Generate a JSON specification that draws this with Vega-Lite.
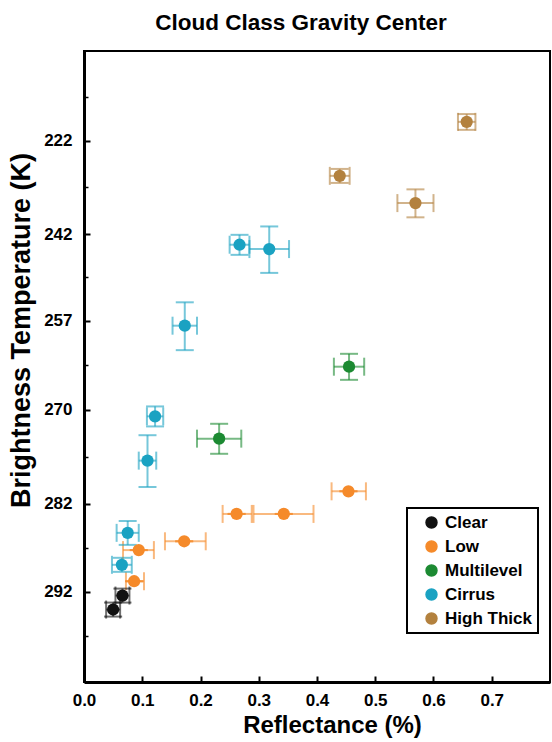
{
  "$schema": "https://vega.github.io/schema/vega-lite/v6.json",
  "width": 466,
  "height": 631,
  "autosize": "none",
  "padding": {"left": 84, "top": 51, "right": 2, "bottom": 60},
  "background": "white",
  "title": {"text": "Cloud Class Gravity Center", "font": "Liberation Sans", "fontSize": 22.5, "fontWeight": "bold", "color": "black", "offset": 17, "dx": -16},
  "config": {
    "view": {"stroke": "black", "strokeWidth": 2},
    "axis": {"domainColor": "black", "domainWidth": 3, "tickColor": "black", "tickWidth": 2, "tickSize": -6, "grid": false, "labelFont": "Liberation Sans", "labelFontWeight": "bold", "labelFontSize": 17, "labelColor": "black", "titleFont": "Liberation Sans", "titleFontWeight": "bold", "titleColor": "black"},
    "legend": {"labelFont": "Liberation Sans", "labelFontWeight": "bold", "labelFontSize": 17, "labelColor": "black", "strokeWidth": 2}
  },
  "data": {"values": [
    {"class": "Clear", "r": 0.050, "t": 293.92, "rlo": 0.038, "rhi": 0.062, "tlo": 293.18, "thi": 294.66},
    {"class": "Clear", "r": 0.066, "t": 292.43, "rlo": 0.054, "rhi": 0.078, "tlo": 291.68, "thi": 293.18},
    {"class": "Low", "r": 0.086, "t": 290.88, "rlo": 0.072, "rhi": 0.103, "tlo": 290.88, "thi": 290.88},
    {"class": "Low", "r": 0.094, "t": 287.42, "rlo": 0.067, "rhi": 0.120, "tlo": 287.42, "thi": 287.42},
    {"class": "Low", "r": 0.172, "t": 286.42, "rlo": 0.139, "rhi": 0.209, "tlo": 286.42, "thi": 286.42},
    {"class": "Low", "r": 0.262, "t": 283.24, "rlo": 0.238, "rhi": 0.288, "tlo": 283.24, "thi": 283.24},
    {"class": "Low", "r": 0.343, "t": 283.24, "rlo": 0.291, "rhi": 0.394, "tlo": 283.24, "thi": 283.24},
    {"class": "Low", "r": 0.454, "t": 280.53, "rlo": 0.425, "rhi": 0.484, "tlo": 280.53, "thi": 280.53},
    {"class": "Multilevel", "r": 0.232, "t": 273.89, "rlo": 0.194, "rhi": 0.270, "tlo": 271.93, "thi": 275.85},
    {"class": "Multilevel", "r": 0.455, "t": 263.96, "rlo": 0.429, "rhi": 0.481, "tlo": 262.06, "thi": 265.86},
    {"class": "Cirrus", "r": 0.075, "t": 285.45, "rlo": 0.056, "rhi": 0.094, "tlo": 284.07, "thi": 286.83},
    {"class": "Cirrus", "r": 0.065, "t": 289.07, "rlo": 0.048, "rhi": 0.082, "tlo": 288.29, "thi": 289.85},
    {"class": "Cirrus", "r": 0.109, "t": 276.72, "rlo": 0.094, "rhi": 0.124, "tlo": 273.44, "thi": 280.00},
    {"class": "Cirrus", "r": 0.122, "t": 270.93, "rlo": 0.108, "rhi": 0.136, "tlo": 269.58, "thi": 272.28},
    {"class": "Cirrus", "r": 0.173, "t": 257.76, "rlo": 0.152, "rhi": 0.194, "tlo": 254.01, "thi": 261.51},
    {"class": "Cirrus", "r": 0.267, "t": 244.00, "rlo": 0.250, "rhi": 0.284, "tlo": 242.15, "thi": 245.85},
    {"class": "Cirrus", "r": 0.318, "t": 244.80, "rlo": 0.284, "rhi": 0.352, "tlo": 240.55, "thi": 249.05},
    {"class": "High Thick", "r": 0.439, "t": 230.13, "rlo": 0.422, "rhi": 0.456, "tlo": 228.59, "thi": 231.67},
    {"class": "High Thick", "r": 0.569, "t": 235.91, "rlo": 0.538, "rhi": 0.600, "tlo": 233.05, "thi": 238.77},
    {"class": "High Thick", "r": 0.657, "t": 217.18, "rlo": 0.642, "rhi": 0.672, "tlo": 215.11, "thi": 219.25}
  ]},
  "encoding": {
    "x": {"field": "r", "type": "quantitative", "scale": {"domain": [0, 0.8], "nice": false, "zero": false},
      "axis": {"title": "Reflectance (%)", "titleFontSize": 24, "titleX": 248, "titleY": 50, "titleBaseline": "alphabetic", "values": [0, 0.1, 0.2, 0.3, 0.4, 0.5, 0.6, 0.7], "format": ".1f", "labelPadding": 16, "labelFlush": false}},
    "y": {"field": "t", "type": "quantitative", "scale": {"type": "pow", "exponent": 4, "domain": [195.6, 301.3], "reverse": true, "nice": false, "zero": false}, "axis": null},
    "color": {"field": "class", "type": "nominal",
      "scale": {"domain": ["Clear", "Low", "Multilevel", "Cirrus", "High Thick"], "range": ["#111111", "#f58a2a", "#1c8a32", "#1aa2c2", "#b3813e"]},
      "legend": {"title": null, "orient": "none", "legendX": 323, "legendY": 457, "strokeColor": "black", "padding": 6, "symbolOffset": 10, "symbolSize": 120, "symbolType": "circle", "symbolOpacity": 1, "rowPadding": 6, "labelOffset": 5, "fillColor": "white"}}
  },
  "layer": [
    {"mark": {"type": "rule", "strokeWidth": 2, "opacity": 0.6},
     "encoding": {"x": {"field": "rlo", "type": "quantitative"}, "x2": {"field": "rhi"}}},
    {"mark": {"type": "rule", "strokeWidth": 2, "opacity": 0.6},
     "encoding": {"y": {"field": "tlo", "type": "quantitative", "axis": null}, "y2": {"field": "thi"}}},
    {"mark": {"type": "tick", "orient": "vertical", "size": 18, "thickness": 2, "opacity": 0.6},
     "encoding": {"x": {"field": "rlo", "type": "quantitative"}}},
    {"mark": {"type": "tick", "orient": "vertical", "size": 18, "thickness": 2, "opacity": 0.6},
     "encoding": {"x": {"field": "rhi", "type": "quantitative"}}},
    {"mark": {"type": "tick", "orient": "horizontal", "size": 18, "thickness": 2, "opacity": 0.6},
     "encoding": {"y": {"field": "tlo", "type": "quantitative", "axis": null}}},
    {"mark": {"type": "tick", "orient": "horizontal", "size": 18, "thickness": 2, "opacity": 0.6},
     "encoding": {"y": {"field": "thi", "type": "quantitative", "axis": null}}},
    {"mark": {"type": "point", "filled": true, "size": 150, "opacity": 1},
     "encoding": {"y": {"field": "t", "type": "quantitative",
       "axis": {"orient": "left", "title": "Brightness Temperature (K)", "titleFontSize": 27, "titleY": 279, "values": [222, 242, 257, 270, 282, 292], "labelPadding": 18, "titlePadding": 8}}}},
    {"mark": {"type": "point", "opacity": 0},
     "encoding": {"color": {"value": "black"}, "y": {"field": "t", "type": "quantitative",
       "axis": {"orient": "left", "values": [210.21, 232.64, 249.84, 263.74, 276.2, 287.13, 296.64], "labels": false, "title": null, "domain": false, "tickSize": -4, "tickWidth": 1.5}}}}
  ],
  "resolve": {"axis": {"y": "independent"}}
}
